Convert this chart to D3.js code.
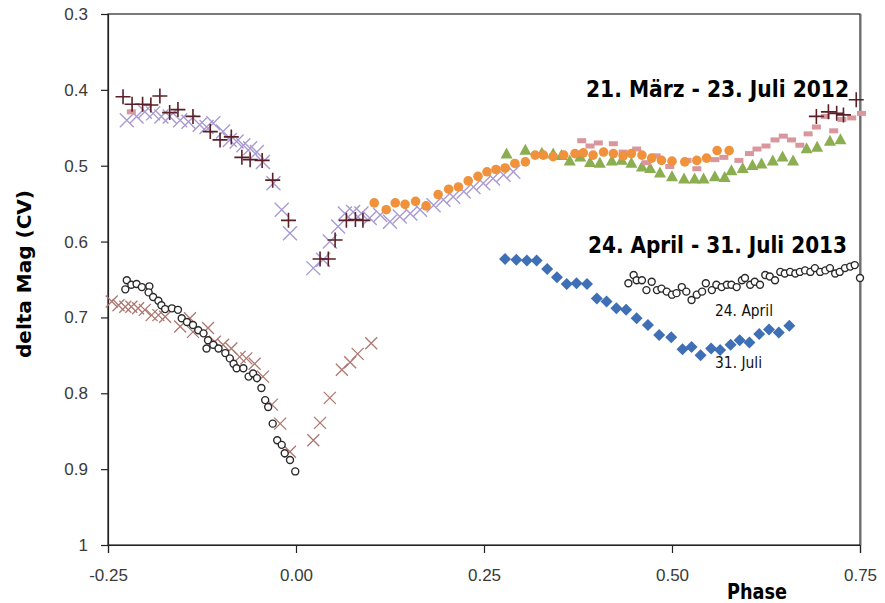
<!DOCTYPE html>
<html>
<head>
<meta charset="utf-8">
<script src="https://cdn.jsdelivr.net/npm/d3@7"></script>
<style>
  body { margin: 0; background: #fff; }
  .tick text { font-family: "Liberation Sans", Arial, sans-serif; font-size: 17px; fill: #3a3a3a; }
  .lbl { font-family: "Liberation Sans Narrow", "DejaVu Sans Condensed", "Liberation Sans", Arial, sans-serif; font-weight: bold; fill: #000; }
  .small { font-family: "Liberation Sans Narrow", "DejaVu Sans Condensed", "Liberation Sans", Arial, sans-serif; fill: #111; }
</style>
</head>
<body>
<div class="canva"></div>
<script>
// tick values
const yTicks = [0.3, 0.4, 0.5, 0.6, 0.7, 0.8, 0.9, 1];
const xTicks = [-0.25, 0, 0.25, 0.5, 0.75];

// 2012 series [phase, delta mag]
const plus2012 = [[-0.230,0.409],[-0.218,0.419],[-0.204,0.419],[-0.193,0.420],[-0.181,0.408],[-0.168,0.430],
  [-0.157,0.426],[-0.137,0.435],[-0.114,0.455],[-0.101,0.466],[-0.086,0.462],[-0.072,0.489],[-0.061,0.492],
  [-0.045,0.493],[-0.031,0.519],[-0.010,0.572],[0.032,0.623],[0.043,0.623],[0.052,0.598],[0.067,0.572],
  [0.079,0.571],[0.089,0.572],[0.692,0.435],[0.708,0.429],[0.719,0.431],[0.728,0.433],[0.745,0.413]];

const cross2012 = [[-0.225,0.440],[-0.212,0.435],[-0.201,0.429],[-0.190,0.431],[-0.179,0.435],[-0.168,0.435],
  [-0.154,0.440],[-0.143,0.442],[-0.128,0.446],[-0.119,0.449],[-0.110,0.444],[-0.097,0.455],[-0.088,0.466],
  [-0.079,0.468],[-0.070,0.473],[-0.061,0.477],[-0.052,0.482],[-0.044,0.495],[-0.030,0.523],[-0.019,0.558],
  [-0.008,0.589],[0.023,0.635],[0.036,0.624],[0.045,0.600],[0.056,0.580],[0.065,0.563],[0.076,0.561],
  [0.087,0.563],[0.098,0.569],[0.112,0.565],[0.125,0.574],[0.138,0.567],[0.152,0.563],[0.165,0.558],
  [0.183,0.552],[0.196,0.545],[0.209,0.541],[0.223,0.534],[0.236,0.528],[0.249,0.523],[0.262,0.517],
  [0.276,0.512],[0.289,0.508]];

const circle2012 = [[0.104,0.549],[0.120,0.558],[0.132,0.549],[0.145,0.551],[0.159,0.547],[0.173,0.553],
  [0.189,0.538],[0.203,0.531],[0.216,0.528],[0.229,0.520],[0.242,0.514],[0.254,0.508],[0.266,0.505],
  [0.278,0.503],[0.291,0.497],[0.305,0.495],[0.318,0.486],[0.329,0.486],[0.342,0.488],[0.356,0.486],
  [0.371,0.484],[0.382,0.483],[0.395,0.486],[0.409,0.482],[0.422,0.484],[0.435,0.487],[0.446,0.484],
  [0.460,0.486],[0.473,0.490],[0.486,0.493],[0.500,0.494],[0.517,0.495],[0.533,0.493],[0.546,0.490],
  [0.560,0.480],[0.576,0.480]];

const triangle2012 = [[0.280,0.484],[0.305,0.479],[0.327,0.483],[0.342,0.484],[0.353,0.486],[0.364,0.493],
  [0.378,0.488],[0.391,0.495],[0.404,0.496],[0.420,0.493],[0.433,0.492],[0.446,0.496],[0.460,0.501],
  [0.471,0.503],[0.484,0.509],[0.500,0.514],[0.516,0.517],[0.530,0.517],[0.542,0.517],[0.557,0.514],
  [0.570,0.515],[0.579,0.506],[0.594,0.503],[0.607,0.499],[0.619,0.497],[0.634,0.493],[0.647,0.488],
  [0.661,0.493],[0.679,0.477],[0.693,0.475],[0.710,0.467],[0.724,0.465]];

const dash2012 = [[-0.219,0.429],[0.380,0.467],[0.391,0.474],[0.402,0.470],[0.422,0.471],[0.435,0.482],
  [0.453,0.478],[0.466,0.496],[0.479,0.487],[0.497,0.501],[0.520,0.493],[0.533,0.504],[0.557,0.492],
  [0.569,0.489],[0.589,0.493],[0.603,0.484],[0.613,0.478],[0.625,0.474],[0.637,0.466],[0.648,0.461],
  [0.659,0.466],[0.670,0.473],[0.681,0.458],[0.692,0.449],[0.704,0.435],[0.715,0.454],[0.726,0.439],
  [0.739,0.437],[0.752,0.431]];

// 2013 series [phase, delta mag]
const cross2013 = [[-0.245,0.679],[-0.236,0.684],[-0.227,0.686],[-0.219,0.686],[-0.210,0.688],[-0.201,0.690],
  [-0.192,0.697],[-0.183,0.697],[-0.174,0.699],[-0.154,0.712],[-0.141,0.701],[-0.137,0.719],[-0.117,0.714],
  [-0.108,0.732],[-0.097,0.736],[-0.086,0.741],[-0.075,0.752],[-0.066,0.754],[-0.055,0.761],[-0.044,0.778],
  [-0.032,0.815],[-0.021,0.840],[-0.008,0.877],[0.023,0.862],[0.032,0.839],[0.045,0.806],[0.061,0.769],
  [0.072,0.759],[0.082,0.748],[0.100,0.734]];

const april2013 = [[-0.225,0.651],[-0.227,0.663],[-0.219,0.657],[-0.212,0.656],[-0.205,0.660],[-0.195,0.659],
  [-0.196,0.667],[-0.190,0.673],[-0.183,0.678],[-0.179,0.684],[-0.174,0.689],[-0.165,0.688],[-0.157,0.690],
  [-0.152,0.701],[-0.145,0.706],[-0.137,0.710],[-0.130,0.717],[-0.123,0.721],[-0.117,0.730],[-0.119,0.741],
  [-0.110,0.736],[-0.103,0.741],[-0.094,0.747],[-0.088,0.754],[-0.083,0.761],[-0.079,0.767],[-0.070,0.767],
  [-0.063,0.778],[-0.057,0.774],[-0.052,0.780],[-0.046,0.793],[-0.041,0.809],[-0.037,0.818],[-0.031,0.840],
  [-0.025,0.862],[-0.019,0.868],[-0.015,0.879],[-0.008,0.888],[-0.001,0.903],
  [0.442,0.655],[0.449,0.644],[0.453,0.651],[0.460,0.651],[0.466,0.664],[0.473,0.653],[0.480,0.664],
  [0.486,0.662],[0.493,0.666],[0.500,0.670],[0.506,0.668],[0.513,0.660],[0.519,0.666],[0.526,0.677],
  [0.533,0.670],[0.540,0.666],[0.545,0.655],[0.553,0.664],[0.559,0.657],[0.566,0.660],[0.573,0.657],
  [0.579,0.657],[0.586,0.660],[0.593,0.651],[0.597,0.648],[0.604,0.657],[0.610,0.653],[0.617,0.657],
  [0.624,0.644],[0.630,0.646],[0.637,0.651],[0.644,0.640],[0.650,0.642],[0.657,0.640],[0.664,0.642],
  [0.670,0.640],[0.677,0.638],[0.684,0.640],[0.690,0.635],[0.697,0.640],[0.704,0.638],[0.710,0.635],
  [0.717,0.642],[0.723,0.640],[0.730,0.635],[0.737,0.633],[0.743,0.631],[0.750,0.648]];

const july2013 = [[0.278,0.623],[0.293,0.624],[0.307,0.625],[0.320,0.625],[0.334,0.636],[0.347,0.647],
  [0.360,0.656],[0.373,0.655],[0.387,0.656],[0.400,0.675],[0.413,0.679],[0.426,0.688],[0.439,0.690],
  [0.453,0.701],[0.468,0.710],[0.483,0.723],[0.499,0.726],[0.514,0.742],[0.526,0.739],[0.538,0.750],
  [0.552,0.741],[0.564,0.743],[0.578,0.736],[0.590,0.730],[0.603,0.733],[0.616,0.722],[0.629,0.716],
  [0.642,0.720],[0.656,0.711]];

const margin = {top: 14, left: 108};
const graphWidth = 752;
const graphHeight = 531;

const svg = d3.select(".canva").append("svg")
  .attr("width", 885)
  .attr("height", 603);

const g = svg.append("g")
  .attr("transform", `translate(${margin.left}, ${margin.top})`);

const x = d3.scaleLinear().domain([-0.25, 0.75]).range([0, graphWidth]);
const y = d3.scaleLinear().domain([0.3, 1]).range([0, graphHeight]);

// frame
g.append("rect")
  .attr("width", graphWidth).attr("height", graphHeight)
  .attr("fill", "none").attr("stroke", "#222").attr("stroke-width", 1.2);
g.append("line")
  .attr("x1", graphWidth + 1).attr("x2", graphWidth + 1)
  .attr("y1", 0).attr("y2", graphHeight)
  .attr("stroke", "#666").attr("stroke-width", 1);

// axes
const yAxis = d3.axisLeft(y)
  .tickValues(yTicks)
  .tickSize(7).tickPadding(13)
  .tickFormat(d => d === 1 ? "1" : d.toFixed(1));
const xAxis = d3.axisBottom(x)
  .tickValues(xTicks)
  .tickSize(8).tickPadding(16)
  .tickFormat(d => d.toFixed(2));

g.append("g").call(yAxis)
  .call(a => a.selectAll("line, path").attr("stroke", "#222").attr("stroke-width", 1.2));
g.append("g").attr("transform", `translate(0, ${graphHeight})`).call(xAxis)
  .call(a => a.selectAll("line, path").attr("stroke", "#222").attr("stroke-width", 1.2));

// marker shapes
const shapes = {
  plus: "M-7.5,0H7.5M0,-7.5V7.5",
  cross: "M-7,-7L7,7M-7,7L7,-7",
  smallCross: "M-6,-6L6,6M-6,6L6,-6",
  triangle: "M0,-6L6,5L-6,5Z",
  dash: "M-4.5,-2.5H4.5V2.5H-4.5Z",
  diamond: "M0,-6L6,0L0,6L-6,0Z"
};

function drawPaths(data, shape, fill, stroke, width) {
  g.append("g").selectAll("path")
    .data(data)
    .enter()
    .append("path")
    .attr("transform", d => `translate(${x(d[0])}, ${y(d[1])})`)
    .attr("d", shapes[shape])
    .attr("fill", fill)
    .attr("stroke", stroke)
    .attr("stroke-width", width);
}

function drawCircles(data, r, fill, stroke, width) {
  g.append("g").selectAll("circle")
    .data(data)
    .enter()
    .append("circle")
    .attr("cx", d => x(d[0]))
    .attr("cy", d => y(d[1]))
    .attr("r", r)
    .attr("fill", fill)
    .attr("stroke", stroke)
    .attr("stroke-width", width);
}

drawPaths(cross2012, "cross", "none", "#a99bd2", 1.4);
drawPaths(triangle2012, "triangle", "#8aae50", "none", 0);
drawPaths(dash2012, "dash", "#d9969c", "none", 0);
drawCircles(circle2012, 4.8, "#f0913c", "none", 0);
drawPaths(plus2012, "plus", "none", "#5a1f26", 1.6);
drawPaths(cross2013, "smallCross", "none", "#ae7770", 1.3);
drawCircles(april2013, 3.5, "#fff", "#2a2a2a", 1.4);
drawPaths(july2013, "diamond", "#3f6fb4", "none", 0);

// labels
g.append("text").attr("class", "lbl")
  .attr("x", 478).attr("y", 83)
  .style("font-size", "23px")
  .attr("textLength", 263).attr("lengthAdjust", "spacingAndGlyphs")
  .text("21. März - 23. Juli 2012");

g.append("text").attr("class", "lbl")
  .attr("x", 480).attr("y", 239)
  .style("font-size", "23px")
  .attr("textLength", 259).attr("lengthAdjust", "spacingAndGlyphs")
  .text("24. April - 31. Juli 2013");

g.append("text").attr("class", "small")
  .attr("x", 607).attr("y", 302)
  .style("font-size", "15px")
  .attr("textLength", 58).attr("lengthAdjust", "spacingAndGlyphs")
  .text("24. April");

g.append("text").attr("class", "small")
  .attr("x", 607).attr("y", 354)
  .style("font-size", "15px")
  .attr("textLength", 47).attr("lengthAdjust", "spacingAndGlyphs")
  .text("31. Juli");

svg.append("text").attr("class", "lbl")
  .attr("transform", "translate(31, 274) rotate(-90)")
  .attr("text-anchor", "middle")
  .style("font-size", "20px")
  .attr("textLength", 168).attr("lengthAdjust", "spacingAndGlyphs")
  .text("delta Mag (CV)");

svg.append("text").attr("class", "lbl")
  .attr("x", 727).attr("y", 599)
  .style("font-size", "22px")
  .attr("textLength", 60).attr("lengthAdjust", "spacingAndGlyphs")
  .text("Phase");
</script>
</body>
</html>
